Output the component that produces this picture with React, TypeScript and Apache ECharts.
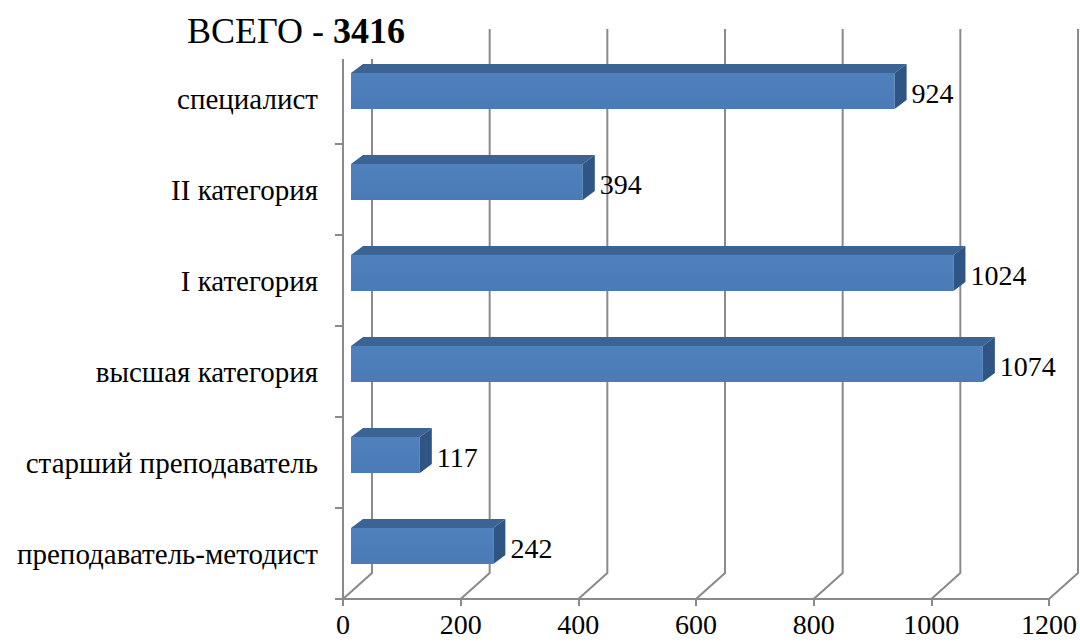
import React, { useEffect, useRef } from "react";
import * as echarts from "echarts";

const categories = [
  "преподаватель-методист",
  "старший преподаватель",
  "высшая категория",
  "I категория",
  "II категория",
  "специалист",
];
const values = [242, 117, 1074, 1024, 394, 924];
const xTicks = [0, 200, 400, 600, 800, 1000, 1200];
const titleLabel = "ВСЕГО - ";
const titleTotal = "3416";

const FONT = "Liberation Serif";

export default function App() {
  const ref = useRef<HTMLDivElement>(null);
  useEffect(() => {
    if (!ref.current) return;
    const chart = echarts.init(ref.current, null, { renderer: "svg" });
    const option: any = {
      animation: false,
      backgroundColor: "#ffffff",
      title: {
        text: `{a|${titleLabel}}{b|${titleTotal}}`,
        left: 187,
        top: 13,
        padding: 0,
        z: 60,
        textStyle: {
          fontFamily: FONT,
          fontWeight: "normal",
          rich: {
            a: { fontFamily: FONT, fontSize: 36, fontWeight: "normal", color: "#000", lineHeight: 36 },
            b: { fontFamily: FONT, fontSize: 36, fontWeight: "bold", color: "#000", lineHeight: 36 },
          },
        },
      },
      graphic: [
        { type: "rect", z: 50, shape: { x: 0, y: 0, width: 425, height: 59 }, style: { fill: "#ffffff" } },
      ],
      grid: { left: 343, right: 31, top: 53, bottom: 44 },
      xAxis: {
        type: "value",
        min: 0,
        max: 1200,
        interval: 200,
        axisLine: { show: true, lineStyle: { color: "#8a8a8a", width: 2 } },
        axisTick: { show: true, length: 7, lineStyle: { color: "#8a8a8a", width: 2 } },
        splitLine: { show: false },
        axisLabel: {
          fontFamily: FONT,
          fontSize: 28,
          color: "#000",
          margin: 11,
          formatter: (v: number) => String(v),
        },
      },
      yAxis: {
        type: "category",
        data: categories,
        axisLine: { show: true, lineStyle: { color: "#8a8a8a", width: 2 } },
        axisTick: { show: true, length: 8, lineStyle: { color: "#8a8a8a", width: 2 } },
        splitLine: { show: false },
        axisLabel: { fontFamily: FONT, fontSize: 29, color: "#000", margin: 25 },
      },
      series: [
        {
          type: "custom",
          z: 1,
          clip: false,
          silent: true,
          data: xTicks.map((v) => [v, 0]),
          encode: { x: 0, y: 1 },
          renderItem: (params: any, api: any) => {
            const x = api.coord([api.value(0), 0])[0];
            const cs = params.coordSys;
            const bottom = cs.y + cs.height;
            return {
              type: "polyline",
              shape: { points: [[x + 29, 29], [x + 29, bottom - 26], [x, bottom]] },
              style: { stroke: "#8a8a8a", lineWidth: 2, fill: "none" },
            };
          },
        },
        {
          type: "custom",
          z: 2,
          clip: false,
          data: values.map((v, i) => [v, i]),
          encode: { x: 0, y: 1 },
          renderItem: (params: any, api: any) => {
            const v = api.value(0);
            const cat = api.value(1);
            const p0 = api.coord([0, cat]);
            const p1 = api.coord([v, cat]);
            const bw = api.size([0, 1])[1];
            const dx = 8;
            const xl = p0[0] + dx;
            const xr = p1[0] + dx;
            const yt = p0[1] - 0.28 * bw;
            const yb = p0[1] + 0.115 * bw;
            const ox = 12;
            const oy = -9;
            return {
              type: "group",
              children: [
                {
                  type: "rect",
                  shape: { x: xl, y: yt, width: xr - xl, height: yb - yt },
                  style: {
                    fill: new echarts.graphic.LinearGradient(0, 0, 0, 1, [
                      { offset: 0, color: "#4f81bd" },
                      { offset: 1, color: "#4a7bb7" },
                    ]),
                  },
                },
                {
                  type: "polygon",
                  shape: { points: [[xl, yt], [xl + ox, yt + oy], [xr + ox, yt + oy], [xr, yt]] },
                  style: { fill: "#3b6495" },
                },
                {
                  type: "polygon",
                  shape: { points: [[xr, yt], [xr + ox, yt + oy], [xr + ox, yb + oy], [xr, yb]] },
                  style: { fill: "#2f5584" },
                },
                {
                  type: "text",
                  style: {
                    text: String(v),
                    x: xr + ox + 5,
                    y: p0[1] - 5.5,
                    fill: "#000",
                    fontFamily: FONT,
                    fontSize: 28,
                    textAlign: "left",
                    textVerticalAlign: "middle",
                    verticalAlign: "middle",
                  },
                },
              ],
            };
          },
        },
      ],
    };
    chart.setOption(option);
    return () => chart.dispose();
  }, []);
  return (
    <div
      ref={ref}
      style={{ position: "fixed", left: 0, top: 0, width: 1080, height: 643, background: "#fff" }}
    />
  );
}
